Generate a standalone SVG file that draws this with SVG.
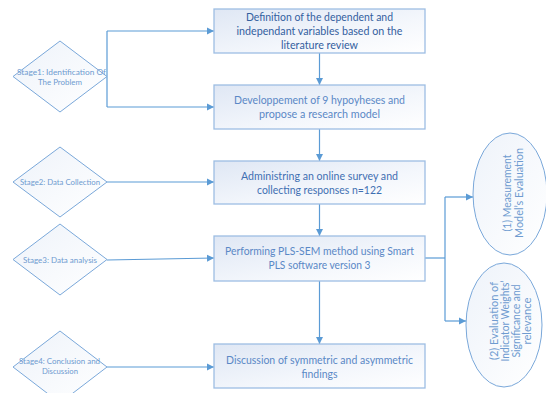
<svg xmlns="http://www.w3.org/2000/svg" width="546" height="393" viewBox="0 0 546 393">
<defs>
<linearGradient id="boxg" x1="0" y1="0" x2="1" y2="1">
<stop offset="0" stop-color="#dfe7f4"/>
<stop offset="0.6" stop-color="#f4f7fc"/>
<stop offset="1" stop-color="#ffffff"/>
</linearGradient>
<linearGradient id="shg" x1="0" y1="0" x2="1" y2="1">
<stop offset="0" stop-color="#eef3fa"/>
<stop offset="1" stop-color="#ffffff"/>
</linearGradient>
<marker id="ah" markerWidth="8" markerHeight="8" refX="7" refY="4" orient="auto" markerUnits="userSpaceOnUse">
<path d="M0,0.5 L7,4 L0,7.5 Z" fill="#5b9bd5"/>
</marker>
</defs>
<style>
.box{fill:url(#boxg);stroke:#9dbde3;stroke-width:1.3}
.shape{fill:url(#shg);stroke:#7aa8da;stroke-width:1}
.bt{font-family:Lato,"Liberation Sans",sans-serif;font-size:11.5px;text-anchor:middle;fill:#5a88c6}
.dark{fill:#33609f}
.mid{fill:#3f6fb2}
.st{font-family:Lato,"Liberation Sans",sans-serif;font-size:8.3px;text-anchor:middle;fill:#6e9bd0}
.et{font-family:Lato,"Liberation Sans",sans-serif;font-size:10.5px;text-anchor:middle;fill:#6e9bd0}
.c{fill:none;stroke:#5b9bd5;stroke-width:1.2}
.ca{fill:none;stroke:#5b9bd5;stroke-width:1.2;marker-end:url(#ah)}
</style>
<g id="connectors">
<path class="c" d="M107,31 L107,107"/>
<path class="ca" d="M107,31 L214,31"/>
<path class="ca" d="M107,107 L214,107"/>
<path class="ca" d="M319.5,53 L319.5,85"/>
<path class="ca" d="M319.5,129 L319.5,161"/>
<path class="ca" d="M319.5,204 L319.5,236"/>
<path class="ca" d="M319.5,281 L319.5,344"/>
<path class="ca" d="M107,182 L214,182"/>
<path class="ca" d="M107,260 L214,258"/>
<path class="ca" d="M107,367 L214,367"/>
<path class="c" d="M425,258 L445,258"/>
<path class="c" d="M445,197 L445,321"/>
<path class="ca" d="M445,197 L473,197"/>
<path class="ca" d="M445,321 L466,321"/>
</g>
<g id="stage1">
<polygon class="shape" points="60,41 107,76.5 60,112 13,76.5"/>
<text class="st" x="61.5" y="75" textLength="89" lengthAdjust="spacingAndGlyphs">Stage1: Identification Of</text>
<text class="st" x="60" y="84.5" textLength="44" lengthAdjust="spacingAndGlyphs">The Problem</text>
</g>
<g id="stage2">
<polygon class="shape" points="60,147 107,182 60,217 13,182"/>
<text class="st" x="60" y="185" textLength="80" lengthAdjust="spacingAndGlyphs">Stage2: Data Collection</text>
</g>
<g id="stage3">
<polygon class="shape" points="60,224 107,259.5 60,295 13,259.5"/>
<text class="st" x="60" y="263" textLength="74" lengthAdjust="spacingAndGlyphs">Stage3: Data analysis</text>
</g>
<g id="stage4">
<polygon class="shape" points="60,331 107,367 60,403 13,367"/>
<text class="st" x="59.5" y="364" textLength="81" lengthAdjust="spacingAndGlyphs">Stage4: Conclusion and</text>
<text class="st" x="60" y="374" textLength="36" lengthAdjust="spacingAndGlyphs">Discussion</text>
</g>
<g id="box1">
<rect class="box" x="214" y="9" width="211" height="44"/>
<text class="bt dark" x="319.5" y="21" textLength="147" lengthAdjust="spacingAndGlyphs">Definition of the dependent and</text>
<text class="bt dark" x="319.5" y="35" textLength="166" lengthAdjust="spacingAndGlyphs">independant variables based on the</text>
<text class="bt dark" x="319.5" y="48.5" textLength="77" lengthAdjust="spacingAndGlyphs">literature review</text>
</g>
<g id="box2">
<rect class="box" x="214" y="85" width="211" height="44"/>
<text class="bt" x="319.5" y="104" textLength="171" lengthAdjust="spacingAndGlyphs">Developpement of 9 hypoyheses and</text>
<text class="bt" x="319.5" y="118" textLength="121" lengthAdjust="spacingAndGlyphs">propose a research model</text>
</g>
<g id="box3">
<rect class="box" x="214" y="161" width="211" height="43"/>
<text class="bt mid" x="319.5" y="180" textLength="157" lengthAdjust="spacingAndGlyphs">Administring an online survey and</text>
<text class="bt mid" x="319.5" y="194" textLength="125" lengthAdjust="spacingAndGlyphs">collecting responses n=122</text>
</g>
<g id="box4">
<rect class="box" x="214" y="236" width="211" height="45"/>
<text class="bt" x="319.5" y="255" textLength="189" lengthAdjust="spacingAndGlyphs">Performing PLS-SEM method using Smart</text>
<text class="bt" x="319.5" y="269" textLength="102" lengthAdjust="spacingAndGlyphs">PLS software version 3</text>
</g>
<g id="box5">
<rect class="box" x="214" y="344" width="211" height="44"/>
<text class="bt" x="319.5" y="364" textLength="187" lengthAdjust="spacingAndGlyphs">Discussion of symmetric and asymmetric</text>
<text class="bt" x="319.5" y="377.5" textLength="36" lengthAdjust="spacingAndGlyphs">findings</text>
</g>
<g id="eval1">
<ellipse class="shape" cx="510" cy="194" rx="37" ry="61"/>
<text class="et" transform="translate(511,193) rotate(-90)" textLength="77" lengthAdjust="spacingAndGlyphs">(1)  Measurement</text>
<text class="et" transform="translate(523,193) rotate(-90)" textLength="90" lengthAdjust="spacingAndGlyphs">Model’s Evaluation</text>
</g>
<g id="eval2">
<ellipse class="shape" cx="504" cy="325" rx="38" ry="62"/>
<text class="et" transform="translate(497.5,321) rotate(-90)" textLength="78" lengthAdjust="spacingAndGlyphs">(2) Evaluation of</text>
<text class="et" transform="translate(508.5,321) rotate(-90)" textLength="81" lengthAdjust="spacingAndGlyphs">Indicator Weights’</text>
<text class="et" transform="translate(519.5,321) rotate(-90)" textLength="73" lengthAdjust="spacingAndGlyphs">Significance and</text>
<text class="et" transform="translate(530.5,321) rotate(-90)" textLength="47" lengthAdjust="spacingAndGlyphs">relevance</text>
</g>
</svg>
